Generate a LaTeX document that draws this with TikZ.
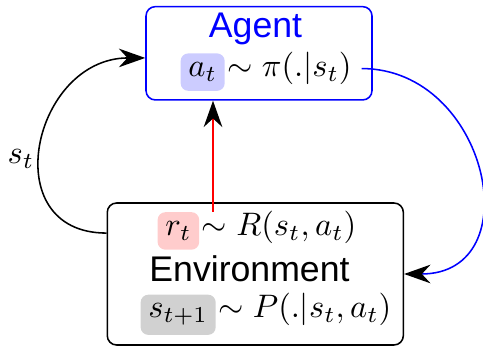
\RequirePackage{fix-cm}
\documentclass[tikz,border=0pt]{standalone}
\usepackage{fontspec}
\newfontfamily\labelfont{Liberation Sans}
\usetikzlibrary{positioning,arrows.meta}

\begin{document}
\begin{tikzpicture}[x=0.3226pt,y=0.3226pt,
        font=\fontsize{10.5}{12.6}\selectfont,
        box/.style = {draw,line width=0.5pt,rounded corners=3pt},
        title/.style = {anchor=base,font=\labelfont\fontsize{11.5}{14}\selectfont},
        hl/.style = {fill=#1,rounded corners=2.5pt,inner xsep=2.5pt,inner ysep=3pt,anchor=base west},
        formula/.style = {inner sep=0.5pt},
        arrow/.style = {line width=0.5pt,-{Stealth[black,length=8.5pt,width=6pt]}}]
                \useasboundingbox (0,0) rectangle (483,346);

                \node[box,draw=blue,minimum width=72.9pt,minimum height=30.1pt] 
                    (agent) at (259,292.7) {};
                \node[box,minimum width=95.5pt,minimum height=45.8pt] 
                    (env) at (255.3,72) {};

                \node[title,text=blue] (agentname) at (255.5,308) {Agent};
                \node[hl=blue!20] (at) at (180,269.3) {$a_t$};
                \node[formula,base right=0pt of at] (policy) {$\sim \pi(.|s_t)$};

                \node[hl=red!20] (rt) at (157,110.5) {$r_t$};
                \node[formula,base right=0pt of rt] (reward) {$\sim R(s_t,a_t)$};
                \node[title] (envname) at (249.5,64.3) {Environment};
                \node[hl=black!18] (st) at (140,28) {$s_{t+1}$};
                \node[formula,base right=0pt of st] (transition) {$\sim P(.|s_t,a_t)$};

                \coordinate (rstart) at (213,134);
                \draw[arrow,red] (rstart) -- (rstart |- agent.south);
                \draw[arrow] ([yshift=13.2pt]env.west) 
                    to[out=180,in=180,looseness=1.6] 
                    node[left,pos=0.45,inner sep=1.5pt] (stlabel) {$s_t$} 
                    ([yshift=-1.5pt]agent.west);
                \draw[arrow,blue] ([xshift=2.5pt]policy.east) 
                    to[out=0,in=0,looseness=1.55] (env.east);
            \end{tikzpicture}
\end{document}
